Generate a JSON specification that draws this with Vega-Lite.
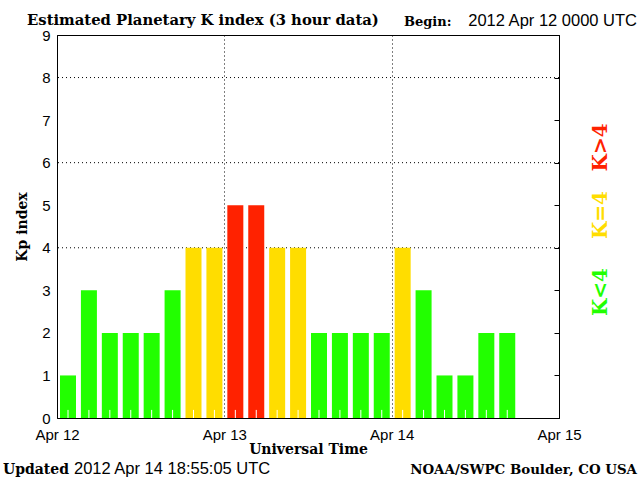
{
  "$schema": "https://vega.github.io/schema/vega-lite/v6.json",
  "width": 502,
  "height": 383,
  "autosize": {"type": "none"},
  "padding": {"left": 57, "top": 35, "right": 81, "bottom": 62},
  "background": "white",
  "config": {
    "view": {"stroke": "black", "strokeWidth": 1},
    "axis": {"domainColor": "black", "tickColor": "black", "labelColor": "black", "titleColor": "black"}
  },
  "datasets": {
    "kp": [
      {"time": "2012-04-12T00:00:00", "kp": 1},
      {"time": "2012-04-12T03:00:00", "kp": 3},
      {"time": "2012-04-12T06:00:00", "kp": 2},
      {"time": "2012-04-12T09:00:00", "kp": 2},
      {"time": "2012-04-12T12:00:00", "kp": 2},
      {"time": "2012-04-12T15:00:00", "kp": 3},
      {"time": "2012-04-12T18:00:00", "kp": 4},
      {"time": "2012-04-12T21:00:00", "kp": 4},
      {"time": "2012-04-13T00:00:00", "kp": 5},
      {"time": "2012-04-13T03:00:00", "kp": 5},
      {"time": "2012-04-13T06:00:00", "kp": 4},
      {"time": "2012-04-13T09:00:00", "kp": 4},
      {"time": "2012-04-13T12:00:00", "kp": 2},
      {"time": "2012-04-13T15:00:00", "kp": 2},
      {"time": "2012-04-13T18:00:00", "kp": 2},
      {"time": "2012-04-13T21:00:00", "kp": 2},
      {"time": "2012-04-14T00:00:00", "kp": 4},
      {"time": "2012-04-14T03:00:00", "kp": 3},
      {"time": "2012-04-14T06:00:00", "kp": 1},
      {"time": "2012-04-14T09:00:00", "kp": 1},
      {"time": "2012-04-14T12:00:00", "kp": 2},
      {"time": "2012-04-14T15:00:00", "kp": 2}
    ]
  },
  "resolve": {"axis": {"y": "independent"}},
  "layer": [
    {
      "data": {"values": [{"level": 4}, {"level": 6}, {"level": 8}]},
      "mark": {"type": "rule", "color": "black", "strokeDash": [1, 3], "strokeWidth": 1},
      "encoding": {
        "y": {"field": "level", "type": "quantitative", "scale": {"domain": [0, 9], "nice": false}, "axis": null}
      }
    },
    {
      "data": {"name": "kp"},
      "mark": {"type": "bar", "width": 16, "xOffset": 11},
      "encoding": {
        "x": {
          "field": "time", "type": "temporal",
          "scale": {"domain": [{"year": 2012, "month": 4, "date": 12}, {"year": 2012, "month": 4, "date": 15}], "padding": 0},
          "axis": {
            "title": "Universal Time",
            "format": "%b %d",
            "values": [{"year": 2012, "month": 4, "date": 12}, {"year": 2012, "month": 4, "date": 13}, {"year": 2012, "month": 4, "date": 14}, {"year": 2012, "month": 4, "date": 15}],
            "ticks": false,
            "labelPadding": 9,
            "labelFont": "Liberation Sans", "labelFontSize": 15,
            "labelFlush": false,
            "titleFont": "DejaVu Serif", "titleFontWeight": "bold", "titleFontSize": 14,
            "titlePadding": 0,
            "grid": true, "gridColor": "black", "gridDash": [1, 3], "gridOpacity": 1
          }
        },
        "y": {
          "field": "kp", "type": "quantitative",
          "scale": {"domain": [0, 9], "nice": false},
          "axis": {
            "orient": "left",
            "title": "Kp index",
            "values": [0, 1, 2, 3, 4, 5, 6, 7, 8, 9],
            "ticks": false,
            "grid": false,
            "labelPadding": 7,
            "labelFont": "Liberation Sans", "labelFontSize": 15,
            "labelFlush": false,
            "titleFont": "DejaVu Serif", "titleFontWeight": "bold", "titleFontSize": 14,
            "titlePadding": 12
          }
        },
        "color": {
          "field": "kp", "type": "quantitative",
          "scale": {"type": "threshold", "domain": [4, 4.5], "range": ["#22ff00", "#ffdd00", "#ff2200"]},
          "legend": null
        }
      }
    },
    {
      "data": {"name": "kp"},
      "mark": {"type": "rule", "color": "white", "strokeWidth": 1, "xOffset": 11},
      "encoding": {
        "x": {"field": "time", "type": "temporal"},
        "y": {
          "datum": 0, "type": "quantitative",
          "scale": {"domain": [0, 9], "nice": false},
          "axis": {
            "orient": "right", "title": null, "labels": false, "ticks": true, "tickSize": -5,
            "values": [0, 1, 2, 3, 4, 5, 6, 7, 8, 9], "grid": false, "domain": true
          }
        },
        "y2": {"datum": 0.19}
      }
    },
    {
      "data": {"values": [{"t": "Estimated Planetary K index (3 hour data)"}]},
      "mark": {"type": "text", "align": "left", "baseline": "alphabetic", "font": "DejaVu Serif", "fontWeight": "bold", "fontSize": 14.8, "color": "black"},
      "encoding": {
        "text": {"field": "t"},
        "x": {"datum": {"year": 2012, "month": 4, "date": 11, "hours": 19, "minutes": 42}, "type": "temporal"},
        "y": {"datum": 9.235, "type": "quantitative", "scale": {"domain": [0, 9], "nice": false}, "axis": null}
      }
    },
    {
      "data": {"values": [{"t": "Begin:"}]},
      "mark": {"type": "text", "align": "left", "baseline": "alphabetic", "font": "DejaVu Serif", "fontWeight": "bold", "fontSize": 13, "color": "black"},
      "encoding": {
        "text": {"field": "t"},
        "x": {"datum": {"year": 2012, "month": 4, "date": 14, "hours": 1, "minutes": 46}, "type": "temporal"},
        "y": {"datum": 9.21, "type": "quantitative", "scale": {"domain": [0, 9], "nice": false}, "axis": null}
      }
    },
    {
      "data": {"values": [{"t": "2012 Apr 12 0000 UTC"}]},
      "mark": {"type": "text", "align": "left", "baseline": "alphabetic", "font": "Liberation Sans", "fontSize": 16.5, "color": "black"},
      "encoding": {
        "text": {"field": "t"},
        "x": {"datum": {"year": 2012, "month": 4, "date": 14, "hours": 10, "minutes": 59}, "type": "temporal"},
        "y": {"datum": 9.21, "type": "quantitative", "scale": {"domain": [0, 9], "nice": false}, "axis": null}
      }
    },
    {
      "data": {"values": [{"t": "Updated"}]},
      "mark": {"type": "text", "align": "left", "baseline": "alphabetic", "font": "DejaVu Serif", "fontWeight": "bold", "fontSize": 14, "color": "black"},
      "encoding": {
        "text": {"field": "t"},
        "x": {"datum": {"year": 2012, "month": 4, "date": 11, "hours": 16, "minutes": 15}, "type": "temporal"},
        "y": {"datum": -1.316, "type": "quantitative", "scale": {"domain": [0, 9], "nice": false}, "axis": null}
      }
    },
    {
      "data": {"values": [{"t": "2012 Apr 14 18:55:05 UTC"}]},
      "mark": {"type": "text", "align": "left", "baseline": "alphabetic", "font": "Liberation Sans", "fontSize": 16.5, "color": "black"},
      "encoding": {
        "text": {"field": "t"},
        "x": {"datum": {"year": 2012, "month": 4, "date": 12, "hours": 2, "minutes": 26}, "type": "temporal"},
        "y": {"datum": -1.316, "type": "quantitative", "scale": {"domain": [0, 9], "nice": false}, "axis": null}
      }
    },
    {
      "data": {"values": [{"t": "NOAA/SWPC Boulder, CO USA"}]},
      "mark": {"type": "text", "align": "right", "baseline": "alphabetic", "font": "DejaVu Serif", "fontWeight": "bold", "fontSize": 13.4, "color": "black"},
      "encoding": {
        "text": {"field": "t"},
        "x": {"datum": {"year": 2012, "month": 4, "date": 15, "hours": 11, "minutes": 11}, "type": "temporal"},
        "y": {"datum": -1.316, "type": "quantitative", "scale": {"domain": [0, 9], "nice": false}, "axis": null}
      }
    },
    {
      "data": {"values": [{"t": "K>4"}]},
      "mark": {"type": "text", "align": "center", "baseline": "middle", "angle": 270, "font": "DejaVu Serif", "fontWeight": "bold", "fontSize": 20, "color": "#ff2200"},
      "encoding": {
        "text": {"field": "t"},
        "x": {"datum": {"year": 2012, "month": 4, "date": 15, "hours": 6, "minutes": 2}, "type": "temporal"},
        "y": {"datum": 6.36, "type": "quantitative", "scale": {"domain": [0, 9], "nice": false}, "axis": null}
      }
    },
    {
      "data": {"values": [{"t": "K=4"}]},
      "mark": {"type": "text", "align": "center", "baseline": "middle", "angle": 270, "font": "DejaVu Serif", "fontWeight": "bold", "fontSize": 20, "color": "#ffdd00"},
      "encoding": {
        "text": {"field": "t"},
        "x": {"datum": {"year": 2012, "month": 4, "date": 15, "hours": 6, "minutes": 2}, "type": "temporal"},
        "y": {"datum": 4.77, "type": "quantitative", "scale": {"domain": [0, 9], "nice": false}, "axis": null}
      }
    },
    {
      "data": {"values": [{"t": "K<4"}]},
      "mark": {"type": "text", "align": "center", "baseline": "middle", "angle": 270, "font": "DejaVu Serif", "fontWeight": "bold", "fontSize": 20, "color": "#22ff00"},
      "encoding": {
        "text": {"field": "t"},
        "x": {"datum": {"year": 2012, "month": 4, "date": 15, "hours": 6, "minutes": 2}, "type": "temporal"},
        "y": {"datum": 2.96, "type": "quantitative", "scale": {"domain": [0, 9], "nice": false}, "axis": null}
      }
    }
  ]
}
